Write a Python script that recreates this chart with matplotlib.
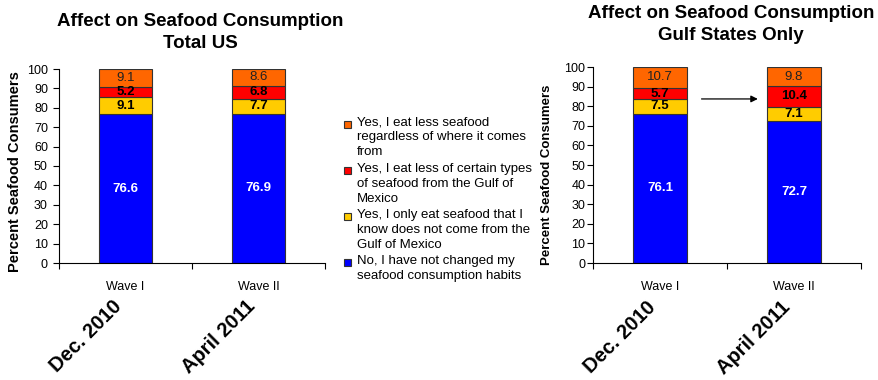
import matplotlib.pyplot as plt
from matplotlib.patches import Rectangle

plt.rcParams['font.family'] = ['Liberation Sans', 'DejaVu Sans']

waves = ['Wave I', 'Wave II']
dates = ['Dec. 2010', 'April 2011']

# stacked from the bottom: not changed, only non-gulf, less gulf, less overall
total_us = {
    'not_changed': [76.6, 76.9],
    'non_gulf_only': [9.1, 7.7],
    'less_gulf': [5.2, 6.8],
    'less_overall': [9.1, 8.6],
}
gulf_states = {
    'not_changed': [76.1, 72.7],
    'non_gulf_only': [7.5, 7.1],
    'less_gulf': [5.7, 10.4],
    'less_overall': [10.7, 9.8],
}

order = ['not_changed', 'non_gulf_only', 'less_gulf', 'less_overall']
colors = {'not_changed': '#0000FF', 'non_gulf_only': '#FFCC00',
          'less_gulf': '#FF0000', 'less_overall': '#FF6600'}
label_style = {'not_changed': ('white', 'bold'), 'non_gulf_only': ('black', 'bold'),
               'less_gulf': ('black', 'bold'), 'less_overall': ('#222222', 'normal')}

legend_labels = [
    ('less_overall', 'Yes, I eat less seafood\nregardless of where it comes\nfrom'),
    ('less_gulf', 'Yes, I eat less of certain types\nof seafood from the Gulf of\nMexico'),
    ('non_gulf_only', 'Yes, I only eat seafood that I\nknow does not come from the\nGulf of Mexico'),
    ('not_changed', 'No, I have not changed my\nseafood consumption habits'),
]

W, H = 879, 380
fig = plt.figure(figsize=(W / 100, H / 100), dpi=100)


def px_axes(x0, x1, ytop, ybot):
    return fig.add_axes([x0 / W, 1 - ybot / H, (x1 - x0) / W, (ybot - ytop) / H])


def draw_panel(ax, data, ylabel_size, ylabel_x, ylabel_y, ypad):
    x = list(range(len(waves)))
    bottom = [0.0] * len(waves)
    for key in order:
        vals = data[key]
        ax.bar(x, vals, 0.4, bottom=bottom, color=colors[key],
               edgecolor='#333333', linewidth=0.8, zorder=2)
        col, wt = label_style[key]
        for i, v in enumerate(vals):
            ax.text(x[i], bottom[i] + v / 2, f'{v:.1f}', ha='center', va='center',
                    fontsize=9.5, color=col, fontweight=wt, zorder=3)
        bottom = [b + v for b, v in zip(bottom, vals)]

    ax.set_xlim(-0.5, 1.5)
    ax.set_ylim(0, 100)
    ax.set_yticks(range(0, 101, 10))
    ax.tick_params(axis='y', labelsize=9, length=4, width=0.8, pad=ypad)
    ax.set_xticks([-0.5, 0.5, 1.5])
    ax.set_xticklabels([])
    ax.tick_params(axis='x', which='major', length=4, width=0.8)
    ax.set_xticks(x, minor=True)
    ax.set_xticklabels(waves, minor=True, fontsize=9)
    ax.tick_params(axis='x', which='minor', length=0, pad=13)
    for s in ['top', 'right']:
        ax.spines[s].set_visible(False)
    for s in ['left', 'bottom']:
        ax.spines[s].set_linewidth(0.8)

    ax.set_ylabel('Percent Seafood Consumers', fontsize=ylabel_size, fontweight='bold')
    ax.yaxis.set_label_coords(ylabel_x, ylabel_y)

    for i, d in enumerate(dates):
        ax.text(x[i], -0.175, d, transform=ax.get_xaxis_transform(), rotation=45,
                ha='right', va='top', fontsize=14.5, fontweight='bold')


ax1 = px_axes(59, 325, 69, 263)
draw_panel(ax1, total_us, 10.5, -0.139, 0.47, 4)

ax2 = px_axes(593, 861, 67, 263)
draw_panel(ax2, gulf_states, 9.5, -0.149, 0.45, 1.5)

# arrow pointing at the Gulf wave II increase
ax2.annotate('', xy=(0.73, 83.7), xytext=(0.31, 83.7),
             arrowprops=dict(arrowstyle='-|>', color='black', lw=0.9,
                             mutation_scale=10, shrinkA=0, shrinkB=0))

fig.text(200 / W, 1 - 21 / H, 'Affect on Seafood Consumption', ha='center', va='center',
         fontsize=13.5, fontweight='bold')
fig.text(200 / W, 1 - 44 / H, 'Total US', ha='center', va='center',
         fontsize=13.5, fontweight='bold')
fig.text(731 / W, 1 - 13 / H, 'Affect on Seafood Consumption', ha='center', va='center',
         fontsize=13.5, fontweight='bold')
fig.text(731 / W, 1 - 35 / H, 'Gulf States Only', ha='center', va='center',
         fontsize=13.5, fontweight='bold')

# legend between the two panels, marker beside the first line of each entry
y = 124
for key, text in legend_labels:
    fig.patches.append(Rectangle(((348 - 3.5) / W, 1 - (y + 3.5) / H), 7 / W, 7 / H,
                                 transform=fig.transFigure, facecolor=colors[key],
                                 edgecolor='#333333', linewidth=0.8))
    fig.text(357 / W, 1 - (y - 7.5) / H, text, ha='left', va='top', fontsize=9.5,
             linespacing=1.32, transform=fig.transFigure)
    y += 46.3

fig.savefig('out.png', dpi=100)
